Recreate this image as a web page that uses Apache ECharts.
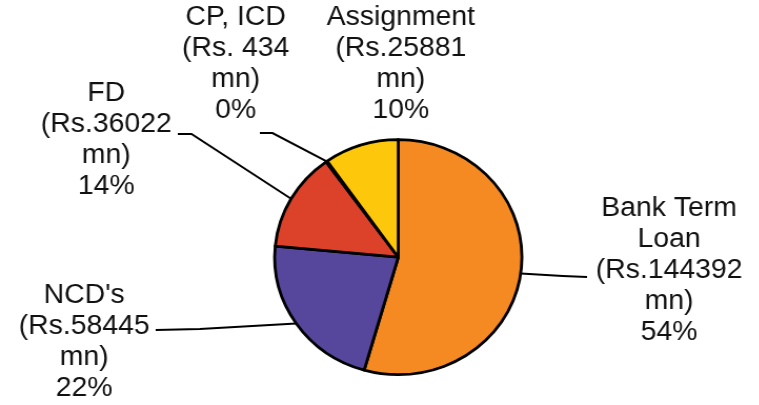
<!DOCTYPE html>
<html>
<head>
<meta charset="utf-8">
<script src="https://cdn.jsdelivr.net/npm/echarts@6/dist/echarts.min.js"></script>
<style>
  html, body { margin: 0; padding: 0; background: #fff; overflow: hidden; }
  /* the drawing is a little wider than tall: stretch the chart horizontally */
  #chart { width: 722px; height: 405px; transform: scaleX(1.052); transform-origin: 0 0; }
</style>
</head>
<body>
<div id="chart"></div>
<script>
// Borrowing mix (Rs. mn)
const categories = ['Bank Term\nLoan', "NCD's", 'FD', 'CP, ICD', 'Assignment'];
const amounts = [144392, 58445, 36022, 434, 25881];
const amountPrefix = ['Rs.', 'Rs.', 'Rs.', 'Rs. ', 'Rs.'];
const sliceColors = ['#F48A21', '#56479C', '#DB4229', '#FCC70C', '#FDC70C'];

// Where each label block sits (centre x, top y) and the bend of its leader line
const labelSpots = [
  { x: 636, y: 193, line: [[535, 276], [558, 277]] },
  { x: 80,  y: 280, line: [[190, 329], [148, 330]] },
  { x: 101, y: 78,  line: [[182, 134], [169, 134]] },
  { x: 224, y: 2,   line: [[259, 133], [247, 133]] },
  { x: 381, y: 2,   line: null }
];

const chart = echarts.init(document.getElementById('chart'), null, { renderer: 'canvas' });

const data = categories.map((name, i) => ({
  name,
  value: amounts[i],
  itemStyle: { color: sliceColors[i] },
  labelLine: { show: labelSpots[i].line !== null }
}));

chart.setOption({
  backgroundColor: '#ffffff',
  animation: false,
  series: [{
    type: 'pie',
    center: [378.6, 257.2],
    radius: 117.5,
    startAngle: 90,
    clockwise: true,
    percentPrecision: 0,
    avoidLabelOverlap: false,
    data,
    itemStyle: { borderColor: '#000', borderWidth: 2.8 },
    label: {
      show: true,
      position: 'outside',
      fontFamily: '"Liberation Sans", Arial, sans-serif',
      fontSize: 27,
      lineHeight: 31,
      color: '#111',
      align: 'center',
      formatter: p => `${p.name}\n(${amountPrefix[p.dataIndex]}${p.value}\nmn)\n${p.percent}%`
    },
    labelLine: {
      show: true,
      length: 20,
      length2: 20,
      smooth: false,
      lineStyle: { color: '#000', width: 2 }
    },
    labelLayout: params => {
      const spot = labelSpots[params.dataIndex];
      const out = { x: spot.x, y: spot.y, align: 'center', verticalAlign: 'top' };
      if (spot.line && params.labelLinePoints) {
        out.labelLinePoints = [params.labelLinePoints[0], spot.line[0], spot.line[1]];
      }
      return out;
    }
  }]
});
</script>
</body>
</html>
